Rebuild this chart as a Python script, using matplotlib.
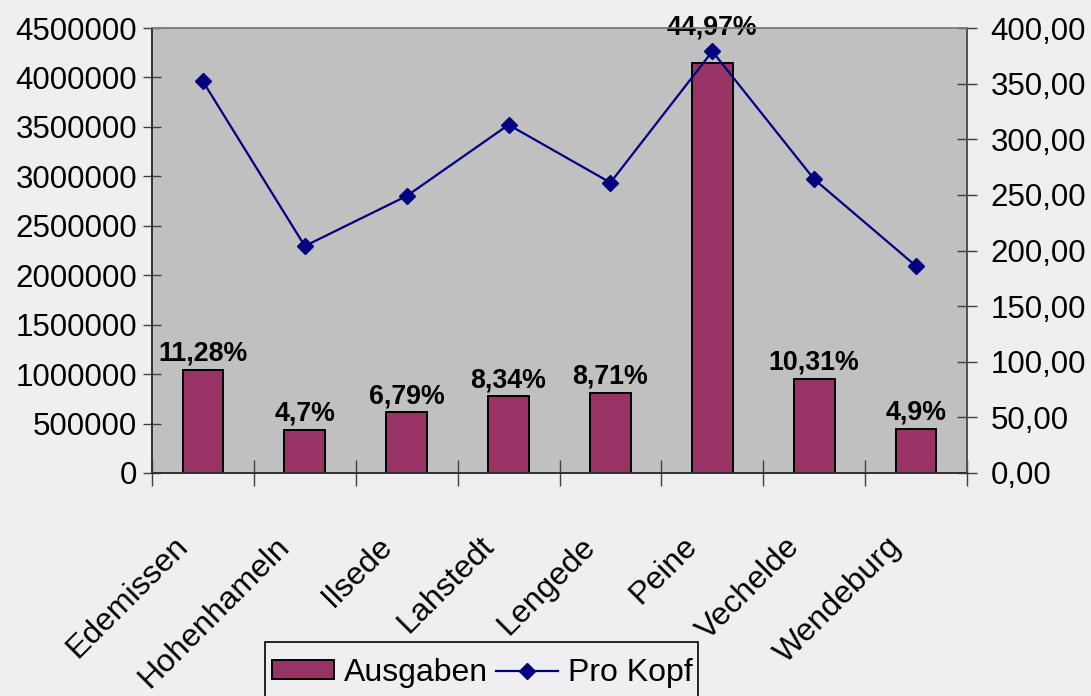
import matplotlib
matplotlib.use("Agg")
import matplotlib.pyplot as plt
from matplotlib.transforms import ScaledTranslation
from matplotlib.patches import Patch, Rectangle
from matplotlib.lines import Line2D
import numpy as np

plt.rcParams['font.family'] = ['Liberation Sans', 'DejaVu Sans']

# ---- data ----
categories = ["Edemissen", "Hohenhameln", "Ilsede", "Lahstedt", "Lengede",
              "Peine", "Vechelde", "Wendeburg"]
ausgaben = [1044000, 435000, 612000, 774000, 812000, 4150000, 952000, 448000]
pro_kopf = [352, 204, 249, 313, 261, 379, 264, 186]
anteil_labels = ["11,28%", "4,7%", "6,79%", "8,34%", "8,71%", "44,97%", "10,31%", "4,9%"]
left_ticks = [0, 500000, 1000000, 1500000, 2000000, 2500000, 3000000, 3500000, 4000000, 4500000]
left_tick_labels = ["0", "500000", "1000000", "1500000", "2000000", "2500000",
                    "3000000", "3500000", "4000000", "4500000"]
right_ticks = [0, 50, 100, 150, 200, 250, 300, 350, 400]
right_tick_labels = ["0,00", "50,00", "100,00", "150,00", "200,00", "250,00",
                     "300,00", "350,00", "400,00"]
legend_labels = ["Ausgaben", "Pro Kopf"]

# ---- style ----
BG = "#EFEFF2"
PLOT_BG = "#C0C0C0"
BAR = "#993366"
LINE = "#000080"
FS = 22.5
W, H = 1091, 696

fig = plt.figure(figsize=(10.91, 6.96), dpi=100, facecolor=BG)
ax = fig.add_axes([152/W, 1-473/H, (967-152)/W, (473-28)/H])
ax.set_facecolor(PLOT_BG)

x = np.arange(len(categories))
bars = ax.bar(x, ausgaben, width=0.4, color=BAR, edgecolor="black", linewidth=1.4, zorder=2)
ax.set_xlim(-0.5, len(categories) - 0.5)
ax.set_ylim(0, 4500000)
ax.set_yticks(left_ticks)
ax.set_yticklabels(left_tick_labels, fontsize=FS)

# category labels
ax.set_xticks(x)
ax.set_xticklabels(categories, fontsize=23, rotation=45, ha="right", va="top",
                   rotation_mode="anchor")
ax.tick_params(axis="x", which="major", length=0, pad=42)
off = ScaledTranslation(-30/100, 0, fig.dpi_scale_trans)
for lab in ax.get_xticklabels():
    lab.set_transform(lab.get_transform() + off)
# boundary ticks
ax.set_xticks(np.arange(-0.5, len(categories)), minor=True)
ax.tick_params(axis="x", which="minor", direction="inout", length=18.5, width=1, color="#404040")
ax.tick_params(axis="y", direction="inout", length=13.5, width=1, color="#404040", pad=4)

# data labels
for i, (b, lab) in enumerate(zip(bars, anteil_labels)):
    dy = 22 if categories[i] == "Peine" else 3
    ax.annotate(lab, (b.get_x() + b.get_width()/2, b.get_height()),
                xytext=(0, dy), textcoords="offset pixels",
                ha="center", va="bottom", fontsize=19.3, fontweight="bold", zorder=5)

ax2 = ax.twinx()
ax2.plot(x, pro_kopf, color=LINE, linewidth=1.6, marker="D", markersize=8.5, zorder=3)
ax2.set_ylim(0, 400)
ax2.set_yticks(right_ticks)
ax2.set_yticklabels(right_tick_labels, fontsize=FS)
ax2.tick_params(axis="y", direction="inout", length=14, width=1, color="#404040", pad=10)

for a in (ax, ax2):
    a.spines["top"].set_color("#808080")
    a.spines["left"].set_color("#303030")
    a.spines["right"].set_color("#505050")
    a.spines["bottom"].set_color("#303030")
    for s in a.spines.values():
        s.set_linewidth(1.2)

# legend frame (extends past the bottom edge as in the original)
frame = Rectangle((265/W, 1-720/H), (698-265)/W, (720-642)/H, transform=fig.transFigure,
                  facecolor=BG, edgecolor="black", linewidth=1.2, zorder=4)
fig.patches.append(frame)

handles = [Patch(facecolor=BAR, edgecolor="black", linewidth=1.4),
           Line2D([], [], color=LINE, linewidth=1.6, marker="D", markersize=8.5)]
leg = fig.legend(handles, legend_labels, loc="upper center",
                 bbox_to_anchor=(482/W, 1-642/H), ncol=2, fontsize=23,
                 frameon=False, handlelength=1.95, handleheight=0.55,
                 handletextpad=0.3, columnspacing=0.25, borderpad=0.5,
                 borderaxespad=0)
leg.set_zorder(5)

fig.savefig("out.png", dpi=100, facecolor=BG)
